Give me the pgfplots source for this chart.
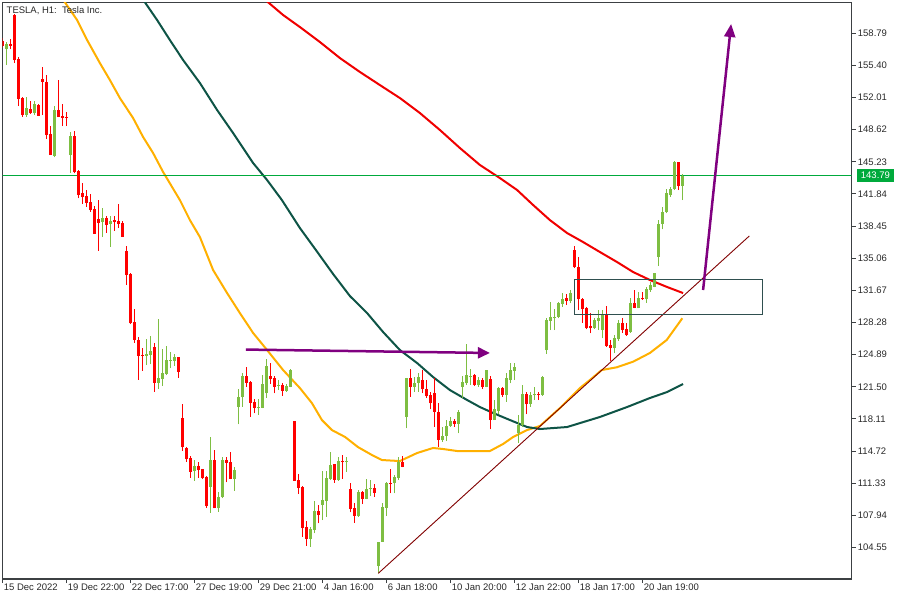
\documentclass[border=0pt]{standalone}
\usepackage{fontspec}
\setmainfont{Liberation Sans}
\usepackage{pgfplots}
\pgfplotsset{compat=1.18}
\usepackage{pgfplotstable}
\usetikzlibrary{arrows.meta}
\definecolor{bull}{RGB}{126,190,66}
\definecolor{bear}{RGB}{255,0,0}
\definecolor{maorange}{RGB}{255,176,0}
\definecolor{madkgreen}{RGB}{14,84,70}
\definecolor{mared}{RGB}{240,0,0}
\definecolor{trend}{RGB}{128,0,0}
\definecolor{arrowpurple}{RGB}{128,0,128}
\definecolor{boxcol}{RGB}{47,79,79}
\definecolor{pricegreen}{RGB}{0,170,60}
\definecolor{framecol}{RGB}{60,64,67}
\definecolor{labelcol}{RGB}{40,40,40}

\pgfplotstableread{
i o h l c
0 158.03 158.29 157.24 157.45
2 157.69 158.19 157.13 157.45
3 160.72 160.82 155.65 155.97
4 156.08 156.26 151.12 151.86
5 151.96 152.10 149.99 150.17
7 150.80 151.65 150.28 150.35
9 151.22 151.33 150.06 150.10
10 153.97 155.26 150.17 153.68
11 153.65 154.39 147.67 148.06
12 148.17 149.01 145.95 145.95
14 150.70 153.86 149.96 149.96
15 150.06 151.33 149.01 149.88
16 149.96 150.49 149.01 149.86
18 147.95 148.48 144.02 144.16
19 144.26 144.37 141.38 141.73
20 141.91 143.03 140.78 141.52
21 141.63 142.26 140.50 140.92
22 141.00 141.87 139.97 140.15
23 140.25 140.57 137.65 137.65
24 139.20 141.20 135.86 138.81
26 139.30 139.52 137.75 138.60
28 139.09 139.48 137.97 138.88
29 139.02 140.78 138.25 138.67
30 138.78 138.99 137.30 137.33
31 135.82 136.35 132.24 133.29
32 133.40 133.47 128.12 128.20
33 128.34 129.71 126.15 126.44
34 126.44 126.75 122.25 124.78
35 124.91 125.59 123.20 124.80
38 125.73 126.09 120.98 121.93
44 124.68 124.68 122.46 123.09
45 118.21 119.69 114.76 115.12
46 115.01 115.18 113.60 113.88
47 113.96 114.20 111.91 112.55
49 113.15 113.60 111.91 112.72
50 112.80 112.86 111.74 111.91
51 112.02 112.12 108.75 108.93
53 113.78 114.83 108.69 108.69
56 113.78 114.06 111.43 113.50
57 113.57 114.62 111.74 111.81
61 122.64 123.62 121.51 121.93
62 122.01 122.08 118.35 119.82
63 119.87 120.18 118.71 119.30
67 122.64 123.98 121.80 122.32
68 122.43 122.64 120.81 121.51
70 121.69 121.90 120.56 121.09
73 117.89 117.89 111.60 111.60
74 111.67 112.30 110.19 110.86
75 110.96 111.04 105.69 106.64
76 106.68 107.35 104.74 105.48
79 108.40 109.03 107.10 107.98
83 113.36 113.36 111.39 111.67
85 113.71 114.31 111.81 113.60
87 110.72 111.39 108.26 108.61
88 108.69 109.21 107.17 107.87
90 110.43 110.54 109.14 109.67
93 110.86 111.25 109.91 110.33
97 111.39 112.80 110.27 111.28
100 113.60 114.20 113.01 113.07
102 122.46 123.35 120.46 121.51
105 122.22 123.27 120.81 121.24
106 121.27 122.22 120.35 120.53
107 120.64 120.98 119.13 119.76
108 120.88 122.40 117.29 118.87
109 118.87 119.76 115.18 115.89
113 117.89 118.07 117.29 117.58
118 122.74 122.85 121.58 121.69
120 122.22 122.40 121.27 121.51
122 122.29 122.64 117.02 118.00
125 121.34 121.51 120.46 120.64
131 120.71 120.98 118.60 119.65
134 120.74 120.98 120.11 120.64
141 130.84 131.26 130.13 130.58
143 135.93 136.35 134.00 134.10
144 134.10 135.16 129.60 130.73
145 130.73 130.84 128.26 129.68
146 129.78 129.95 127.57 127.67
147 127.94 129.25 127.14 127.67
151 129.15 130.06 125.73 125.80
152 125.91 126.44 124.25 125.62
155 128.20 128.73 127.21 127.49
156 127.57 128.20 126.89 126.96
158 130.31 131.71 129.78 129.84
160 130.90 131.53 130.66 130.73
169 145.24 145.24 142.26 142.68
}\bear

\pgfplotstableread{
i o h l c
1 157.13 157.90 155.44 157.66
6 150.20 152.04 149.99 150.91
8 150.35 151.65 150.17 151.33
13 145.85 151.12 145.71 150.70
17 145.95 148.38 144.08 147.95
25 138.88 140.36 137.30 139.30
27 138.70 139.52 136.25 138.99
36 124.78 126.54 123.80 124.96
37 124.85 126.86 123.87 125.28
39 121.93 128.65 121.27 122.46
40 122.36 125.49 121.62 122.92
41 122.85 125.80 122.74 124.33
42 124.22 125.20 123.45 124.33
43 124.25 124.96 123.69 124.68
48 112.65 113.78 111.60 113.15
52 110.96 116.21 108.22 113.78
54 108.69 110.43 108.33 109.91
55 109.84 114.13 109.74 113.78
58 111.81 113.01 110.54 112.72
59 119.40 121.30 117.54 120.46
60 120.39 122.92 119.40 122.64
64 119.30 120.18 118.56 119.40
65 119.30 122.78 119.23 121.80
66 120.81 124.43 120.35 123.69
69 121.59 122.22 121.16 121.69
71 121.09 121.76 120.98 121.58
72 121.51 123.35 121.45 123.27
77 105.48 106.74 104.63 106.50
78 106.40 109.45 106.05 108.40
80 109.03 112.65 107.45 109.56
81 109.49 112.62 107.80 111.91
82 111.78 114.62 111.67 113.25
84 111.67 114.13 111.60 113.71
86 113.61 114.06 112.55 113.71
89 107.87 110.61 107.80 110.43
91 109.67 111.74 109.63 110.72
92 110.69 111.67 109.98 110.86
94 102.60 105.16 101.83 105.16
95 105.16 109.28 105.16 108.85
96 108.75 111.49 107.87 111.39
98 111.32 112.20 110.27 112.02
99 111.91 114.06 111.67 113.60
101 118.35 122.46 117.12 122.46
103 121.51 122.53 120.95 121.93
104 121.93 122.92 120.98 122.50
110 115.89 117.29 115.71 116.31
111 116.31 118.00 115.78 117.40
112 117.40 118.35 117.29 117.89
114 117.58 119.05 116.59 118.87
115 121.51 122.64 120.35 122.04
116 121.87 126.01 121.69 122.74
117 122.54 123.41 121.69 122.64
119 121.69 122.57 121.51 122.22
121 121.51 123.27 121.45 123.27
123 118.00 120.11 118.00 119.13
124 118.98 121.51 118.63 121.34
126 120.64 122.92 119.93 122.40
127 122.22 124.04 121.87 123.27
128 123.20 123.98 122.22 123.62
129 116.59 118.53 115.54 117.47
130 117.47 121.69 117.29 120.71
132 119.65 120.98 119.40 120.64
133 120.61 121.45 120.11 120.71
135 120.64 122.64 120.56 122.50
136 125.38 128.76 124.96 128.55
137 128.47 130.48 127.49 128.89
138 128.73 129.71 127.49 128.89
139 128.89 130.48 128.73 130.37
140 130.23 131.36 129.95 130.76
142 130.58 131.71 130.31 131.36
148 127.67 128.79 127.60 128.55
149 128.47 129.60 127.49 128.73
150 127.49 129.60 126.62 129.15
153 125.56 126.96 125.03 126.62
154 126.51 128.55 126.36 128.20
157 127.31 130.84 127.21 130.31
159 129.78 131.53 129.78 130.90
161 130.73 132.06 130.37 131.82
162 131.71 132.59 131.53 132.24
163 132.06 133.54 132.00 133.47
164 135.22 139.09 134.24 138.67
165 138.67 140.43 138.11 139.97
166 139.91 142.33 139.80 141.91
167 141.73 142.54 141.55 142.33
168 142.33 145.35 142.26 145.24
170 142.68 143.95 141.20 143.79
}\bull

\begin{document}
\begin{tikzpicture}
\path[use as bounding box] (0,0) rectangle (900pt,600pt);
\begin{axis}[
  at={(2.5pt,21pt)}, anchor=south west,
  scale only axis, width=849.2pt, height=576.7pt,
  xmin=-0.05, xmax=212.25, ymin=101.23, ymax=162.06,
  axis line style={draw=framecol, line width=1.2pt},
  xtick={0,16,32,48,64,80,96,112,128,144,160},
  xticklabels={15 Dec 2022,19 Dec 22:00,22 Dec 17:00,27 Dec 19:00,29 Dec 21:00,4 Jan 16:00,6 Jan 18:00,10 Jan 20:00,12 Jan 22:00,18 Jan 17:00,20 Jan 19:00},
  ytick={104.55,107.94,111.33,114.72,118.11,121.50,124.89,128.28,131.67,135.06,138.45,141.84,145.23,148.62,152.01,155.40,158.79},
  yticklabels={104.55,107.94,111.33,114.72,118.11,121.50,124.89,128.28,131.67,135.06,138.45,141.84,145.23,148.62,152.01,155.40,158.79},
  xtick pos=bottom, ytick pos=right, yticklabel pos=right,
  tick align=outside, major tick length=4pt,
  tick style={draw=framecol, line width=1pt},
  ticklabel style={font=\fontsize{9.5}{11}\selectfont, text=labelcol},
  xticklabel style={anchor=north west, inner sep=1pt, xshift=0pt},
  yticklabel style={anchor=west, inner sep=1pt, xshift=1pt},
  /pgf/number format/assume math mode=true,
  clip=true,
]
% moving averages
\addplot[maorange, line width=2pt, line join=round] coordinates {
(14.3,162.83) (18.6,160.19) (21.1,158.08) (24.3,155.65) (26.8,153.86) (29.3,151.96)
(32.6,149.85) (35.1,147.85) (37.6,146.16) (40.1,144.16) (44.3,141.20) (46.8,139.09)
(49.3,137.30) (52.6,133.82) (56.1,131.39) (59.3,129.28) (62.6,127.18) (66.1,125.38)
(70.1,123.27) (74.3,121.37) (77.3,119.79) (79.8,118.00) (82.3,116.94) (85.6,116.21)
(88.8,115.15) (92.3,114.31) (94.8,113.78) (99.3,113.67) (103.6,114.52) (107.6,115.05)
(110.1,114.94) (113.6,114.73) (121.8,114.73) (125.1,115.47) (127.6,116.21) (131.1,116.94)
(134.3,117.37) (139.3,119.26) (144.3,121.37) (146.8,122.22) (149.75,123.27) (153.5,123.56)
(157.6,124.15) (161.8,125.07) (166.0,126.44) (169.9,128.73)};
\addplot[madkgreen, line width=2pt, line join=round] coordinates {
(34.3,162.83) (38.6,160.19) (41.8,158.08) (45.1,155.97) (49.3,153.55) (53.6,150.70)
(57.6,148.27) (62.6,145.11) (66.1,143.31) (69.8,141.20) (74.3,138.25) (78.3,135.93)
(82.6,133.40) (86.8,131.08) (91.1,129.28) (95.1,127.28) (99.3,125.38) (103.6,124.01)
(107.6,122.53) (111.8,121.16) (116.1,120.11) (119.3,119.37) (122.6,118.74) (126.8,118.00)
(131.1,117.26) (134.3,117.05) (141.1,117.26) (149.3,118.32) (156.1,119.37) (161.8,120.32)
(166.1,120.95) (170.1,121.80)};
\addplot[mared, line width=2pt, line join=round] coordinates {
(65.1,162.51) (70.1,160.72) (74.3,159.45) (79.3,157.87) (84.3,156.18) (89.3,154.71)
(94.3,153.33) (99.3,151.96) (104.3,150.38) (109.3,148.59) (114.3,146.69) (119.3,144.90)
(124.3,143.52) (128.6,142.26) (132.6,140.68) (136.8,139.09) (141.1,137.72) (145.1,136.77)
(149.3,135.72) (153.6,134.66) (157.6,133.61) (161.8,132.77) (166.1,132.03) (170.1,131.39)};
% current price line
\addplot[pricegreen, line width=1pt] coordinates {(-1,143.79) (213,143.79)};
% candles: wicks
\addplot[draw=none, mark=none, error bars/.cd, y dir=plus, y explicit, error mark=none,
  error bar style={draw=bear, line width=1pt}]
  table[x=i, y=l, y error plus expr=\thisrow{h}-\thisrow{l}] {\bear};
\addplot[draw=none, mark=none, error bars/.cd, y dir=plus, y explicit, error mark=none,
  error bar style={draw=bull, line width=1pt}]
  table[x=i, y=l, y error plus expr=\thisrow{h}-\thisrow{l}] {\bull};
% candles: bodies
\addplot[draw=none, mark=none, error bars/.cd, y dir=plus, y explicit, error mark=none,
  error bar style={draw=bear, line width=3pt}]
  table[x=i, y=c, y error plus expr=\thisrow{o}-\thisrow{c}] {\bear};
\addplot[draw=none, mark=none, error bars/.cd, y dir=plus, y explicit, error mark=none,
  error bar style={draw=bull, line width=3pt}]
  table[x=i, y=o, y error plus expr=\thisrow{c}-\thisrow{o}] {\bull};
% trend line
\addplot[trend, line width=0.9pt] coordinates {(93.9,101.83) (186.65,137.41)};
% zone rectangle
\addplot[boxcol, line width=1pt, line join=miter] coordinates {
(143.0,132.84) (189.9,132.84) (189.9,129.18) (143.0,129.18) (143.0,132.84)};
% arrows
\addplot[arrowpurple, line width=2.5pt, -{Triangle[length=12pt,width=11pt]}] coordinates {(60.8,125.43) (121.8,125.07)};
\addplot[arrowpurple, line width=2.5pt, -{Triangle[length=13pt,width=11pt]}] coordinates {(175.1,131.71) (182.1,159.77)};
\coordinate (pl) at (axis cs:212.25,143.79);
\coordinate (tl) at (rel axis cs:0,1);
\end{axis}
\node[fill=pricegreen, text=white, anchor=west, inner xsep=4pt, inner ysep=3pt,
  font=\fontsize{9.5}{11}\selectfont] at ([xshift=5pt]pl) {143.79};
\node[anchor=base west, text=labelcol, inner sep=0pt, font=\fontsize{9.5}{11}\selectfont]
  at ([xshift=4pt,yshift=-11pt]tl) {TESLA, H1:\ \ Tesla Inc.};
\end{tikzpicture}
\end{document}
